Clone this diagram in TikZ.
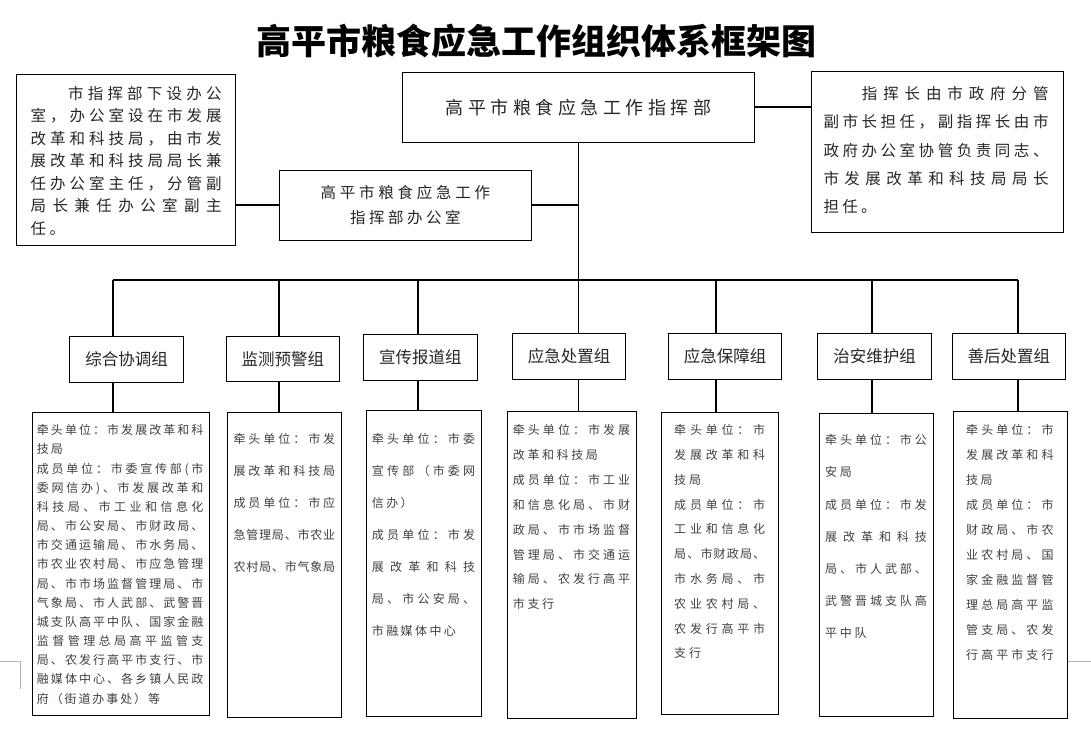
\documentclass[tikz,border=0pt]{standalone}
\usepackage{fontspec}
\newfontfamily\cjk{Noto Sans CJK SC}
\def\lstrut{\vrule height .88em depth .12em width 0pt}
\def\jlw#1#2{\lstrut\makebox[#1][s]{\jlinego#2\relax}}
\def\jlinego#1{#1\jlinenext}
\def\jlinenext#1{\ifx\relax#1\else\hfill#1\expandafter\jlinenext\fi}
\def\jline#1{\jlw{\linew}{#1}}
\def\jlinein#1#2{\hspace*{#1}\jlw{\dimexpr\linew-#1\relax}{#2}}
\def\pline#1{\lstrut\plinego#1\relax}
\def\plinego#1{\ifx\relax#1\else\makebox[\chw][l]{#1}\expandafter\plinego\fi}
\def\linew{100pt}
\def\chw{14pt}
\tikzset{
  panel/.style={draw, line width=1pt, inner sep=0pt, anchor=north west},
  link/.style={line width=1.8pt},
  cropline/.style={draw=black!30, line width=0.6pt},
  titletext/.style={inner sep=0pt, font={\cjk\bfseries\fontsize{35}{35}\selectfont}},
  notetext/.style={anchor=north west, inner sep=0pt, text width=\linew, align=left, text=black!85, font={\cjk\fontsize{15.5}{#1}\selectfont}},
  unittext/.style={anchor=north west, inner sep=0pt, text width=\linew, align=left, text=black!75, font={\cjk\fontsize{12}{#1}\selectfont}},
  groupbox/.style={draw, line width=1pt, inner sep=0pt, text=black!85, font={\cjk\fontsize{16.5}{16.5}\selectfont}}
}

\begin{document}
\begin{tikzpicture}[x=1pt,y=-1pt]
			%%%%% START %%%%%
			\useasboundingbox (0,0) rectangle (1091,742);
			
			\node[titletext] (title) at (536.6, 41) {高平市粮食应急工作组织体系框架图};
			
			\node[panel, anchor=center, minimum width=352.2pt, minimum height=70pt, text=black!85, font={\cjk\fontsize{18}{18}\selectfont}] (m) at (578.5, 107.3) {\jlw{265.8pt}{高平市粮食应急工作指挥部}};
			\node[panel, anchor=center, minimum width=252.8pt, minimum height=70pt, align=center, text=black!85, font={\cjk\fontsize{15.5}{25}\selectfont}] (o) at (405.4, 205.3) {\jlw{169.6pt}{高平市粮食应急工作}\\\jlw{110.7pt}{指挥部办公室}};
			
			\node[panel, minimum width=219.3pt, minimum height=170.7pt] (n1) at (16.1, 74.3) {};
			\def\linew{191pt}\def\chw{19.1pt}
			\node[notetext=22.5pt] (n1t) at (30.4, 85.6) {\jlinein{37.5pt}{市指挥部下设办公}\\ \jline{室，办公室设在市发展}\\ \jline{改革和科技局，由市发}\\ \jline{展改革和科技局局长兼}\\ \jline{任办公室主任，分管副}\\ \jline{局长兼任办公室副主}\\ \pline{任。}};
			
			\node[panel, minimum width=252pt, minimum height=161.6pt] (n2) at (810.7, 70.7) {};
			\def\linew{225pt}\def\chw{18.75pt}
			\node[notetext=28.3pt] (n2t) at (823.3, 85.6) {\jlinein{38.4pt}{指挥长由市政府分管}\\ \jline{副市长担任，副指挥长由市}\\ \jline{政府办公室协管负责同志、}\\ \jline{市发展改革和科技局局长}\\ \pline{担任。}};
			
			\draw[link] (m.east) -- (m.east -| n2.west);
			\draw[link] (n1.east |- o.west) -- (o.west);
			\draw[link] (o.east) -- (o.east -| m.south);
			
			\coordinate (b1) at (112.9, 280);
			\coordinate (b2) at (279.3, 280);
			\coordinate (b3) at (417.8, 280);
			\coordinate (b4) at (578.5, 280);
			\coordinate (b5) at (716.2, 280);
			\coordinate (b6) at (871.8, 280);
			\coordinate (b7) at (1017.9, 280);
			\draw[link] (m.south) -- (b4);
			\draw[link] (b1) -- (b7);
			
			\node[groupbox, minimum width=114.3pt, minimum height=46pt] (g1) at (126.5, 359.3) {综合协调组};
			\node[groupbox, minimum width=112.9pt, minimum height=45pt] (g2) at (282.9, 358.8) {监测预警组};
			\node[groupbox, minimum width=114.3pt, minimum height=46pt] (g3) at (420.4, 357.3) {宣传报道组};
			\node[groupbox, minimum width=112.9pt, minimum height=46pt] (g4) at (569, 356.3) {应急处置组};
			\node[groupbox, minimum width=113.5pt, minimum height=46pt] (g5) at (725, 356.3) {应急保障组};
			\node[groupbox, minimum width=114.6pt, minimum height=46pt] (g6) at (874.5, 356.3) {治安维护组};
			\node[groupbox, minimum width=113.1pt, minimum height=46pt] (g7) at (1008.8, 356.3) {善后处置组};
			
			\node[panel, minimum width=177.6pt, minimum height=302.7pt] (d1) at (31.7, 412.3) {};
			\def\linew{166.6pt}\def\chw{13.9pt}
			\node[unittext=19.17pt] (d1t) at (36.7, 424) {\jline{牵头单位：市发展改革和科}\\ \pline{技局}\\ \jline{成员单位：市委宣传部(市}\\ \jline{委网信办)、市发展改革和}\\ \jline{科技局、市工业和信息化}\\ \jline{局、市公安局、市财政局、}\\ \jline{市交通运输局、市水务局、}\\ \jline{市农业农村局、市应急管理}\\ \jline{局、市市场监督管理局、市}\\ \jline{气象局、市人武部、武警晋}\\ \jline{城支队高平中队、国家金融}\\ \jline{监督管理总局高平监管支}\\ \jline{局、农发行高平市支行、市}\\ \jline{融媒体中心、各乡镇人民政}\\ \pline{府（街道办事处）等}};
			
			\node[panel, minimum width=114pt, minimum height=305pt] (d2) at (226.7, 412.3) {};
			\def\linew{101.7pt}\def\chw{14.5pt}
			\node[unittext=32pt] (d2t) at (233.3, 432.3) {\jline{牵头单位：市发}\\ \jline{展改革和科技局}\\ \jline{成员单位：市应}\\ \jline{急管理局、市农业}\\ \jline{农村局、市气象局}};
			
			\node[panel, minimum width=115.3pt, minimum height=306pt] (d3) at (365.7, 410.3) {};
			\def\linew{103.3pt}\def\chw{14.4pt}
			\node[unittext=32pt] (d3t) at (371.7, 432.3) {\jline{牵头单位：市委}\\ \jline{宣传部（市委网}\\ \pline{信办）}\\ \jline{成员单位：市发}\\ \jline{展改革和科技}\\ \jline{局、市公安局、}\\ \pline{市融媒体中心}};
			
			\node[panel, minimum width=129.6pt, minimum height=307.6pt] (d4) at (506.7, 410.7) {};
			\def\linew{117.3pt}\def\chw{14.6pt}
			\node[unittext=24.85pt] (d4t) at (512.7, 424) {\jline{牵头单位：市发展}\\ \pline{改革和科技局}\\ \jline{成员单位：市工业}\\ \jline{和信息化局、市财}\\ \jline{政局、市市场监督}\\ \jline{管理局、市交通运}\\ \jline{输局、农发行高平}\\ \pline{市支行}};
			
			\node[panel, minimum width=117.6pt, minimum height=302.3pt] (d5) at (660.7, 411.7) {};
			\def\linew{91pt}\def\chw{15pt}
			\node[unittext=24.8pt] (d5t) at (674, 424) {\jline{牵头单位：市}\\ \jline{发展改革和科}\\ \pline{技局}\\ \jline{成员单位：市}\\ \jline{工业和信息化}\\ \jline{局、市财政局、}\\ \jline{市水务局、市}\\ \jline{农业农村局、}\\ \jline{农发行高平市}\\ \pline{支行}};
			
			\node[panel, minimum width=114pt, minimum height=302.7pt] (d6) at (819.3, 413.3) {};
			\def\linew{101.7pt}\def\chw{14.7pt}
			\node[unittext=32.2pt] (d6t) at (825, 434) {\jline{牵头单位：市公}\\ \pline{安局}\\ \jline{成员单位：市发}\\ \jline{展改革和科技}\\ \jline{局、市人武部、}\\ \jline{武警晋城支队高}\\ \pline{平中队}};
			
			\node[panel, minimum width=114pt, minimum height=307.3pt] (d7) at (953.3, 411) {};
			\def\linew{87.3pt}\def\chw{14.5pt}
			\node[unittext=25pt] (d7t) at (966, 424) {\jline{牵头单位：市}\\ \jline{发展改革和科}\\ \pline{技局}\\ \jline{成员单位：市}\\ \jline{财政局、市农}\\ \jline{业农村局、国}\\ \jline{家金融监督管}\\ \jline{理总局高平监}\\ \jline{管支局、农发}\\ \jline{行高平市支行}};
			
			\draw[link] (b1) -- (b1 |- g1.north);
			\draw[link] (b1 |- g1.south) -- (b1 |- d1.north);
			\draw[link] (b2) -- (b2 |- g2.north);
			\draw[link] (b2 |- g2.south) -- (b2 |- d2.north);
			\draw[link] (b3) -- (b3 |- g3.north);
			\draw[link] (b3 |- g3.south) -- (b3 |- d3.north);
			\draw[link] (b4) -- (b4 |- g4.north);
			\draw[link] (b4 |- g4.south) -- (b4 |- d4.north);
			\draw[link] (b5) -- (b5 |- g5.north);
			\draw[link] (b5 |- g5.south) -- (b5 |- d5.north);
			\draw[link] (b6) -- (b6 |- g6.north);
			\draw[link] (b6 |- g6.south) -- (b6 |- d6.north);
			\draw[link] (b7) -- (b7 |- g7.north);
			\draw[link] (b7 |- g7.south) -- (b7 |- d7.north);
			
			\draw[cropline] (0, 661.7) -- (20.7, 661.7) -- (20.7, 689);
			\draw[cropline] (1068, 661.7) -- (1091, 661.7);
			
			%%%%% END %%%%%
\end{tikzpicture}
\end{document}
